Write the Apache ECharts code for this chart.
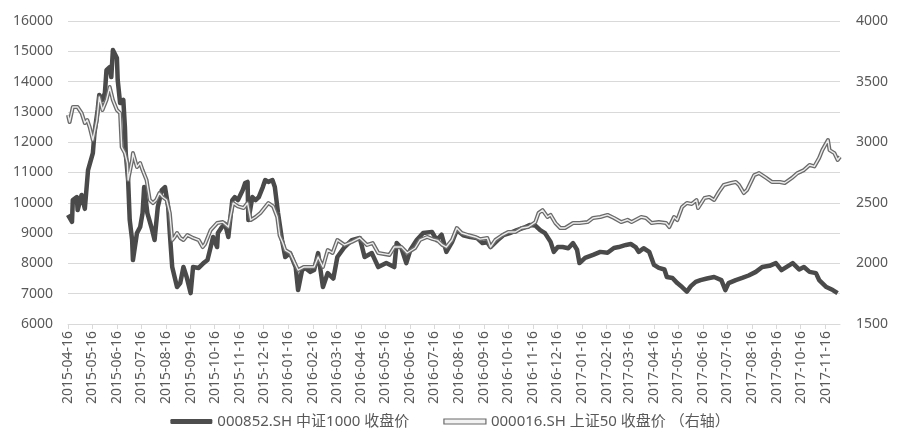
<!DOCTYPE html>
<html><head><meta charset="utf-8">
<script src="https://cdn.jsdelivr.net/npm/echarts@6/dist/echarts.min.js"></script>
<style>html,body{margin:0;padding:0;background:#fff}#c{width:900px;height:440px}</style>
</head><body><div id="c"></div>
<script>
const startDate = '2015-04-16';
const endDate = '2017-12-04';
const tickLabels = ['2015-04-16','2015-05-16','2015-06-16','2015-07-16','2015-08-16','2015-09-16','2015-10-16','2015-11-16','2015-12-16','2016-01-16','2016-02-16','2016-03-16','2016-04-16','2016-05-16','2016-06-16','2016-07-16','2016-08-16','2016-09-16','2016-10-16','2016-11-16','2016-12-16','2017-01-16','2017-02-16','2017-03-16','2017-04-16','2017-05-16','2017-06-16','2017-07-16','2017-08-16','2017-09-16','2017-10-16','2017-11-16'];

const csi1000Name = '000852.SH 中证1000 收盘价';
const csi1000Dates = ['2015-04-16','2015-04-21','2015-04-22','2015-04-27','2015-04-28','2015-05-03','2015-05-07','2015-05-11','2015-05-17','2015-05-19','2015-05-23','2015-05-25','2015-05-29','2015-06-01','2015-06-03','2015-06-07','2015-06-09','2015-06-11','2015-06-16','2015-06-17','2015-06-20','2015-06-24','2015-06-26','2015-06-27','2015-06-30','2015-07-02','2015-07-05','2015-07-06','2015-07-11','2015-07-15','2015-07-18','2015-07-20','2015-07-24','2015-07-29','2015-08-02','2015-08-06','2015-08-11','2015-08-15','2015-08-19','2015-08-21','2015-08-24','2015-08-27','2015-08-30','2015-09-03','2015-09-07','2015-09-11','2015-09-16','2015-09-19','2015-09-26','2015-10-02','2015-10-07','2015-10-11','2015-10-14','2015-10-19','2015-10-20','2015-10-25','2015-10-29','2015-11-02','2015-11-07','2015-11-10','2015-11-14','2015-11-20','2015-11-23','2015-11-26','2015-11-27','2015-12-02','2015-12-06','2015-12-10','2015-12-15','2015-12-18','2015-12-22','2015-12-27','2015-12-30','2016-01-03','2016-01-08','2016-01-12','2016-01-18','2016-01-25','2016-01-28','2016-02-02','2016-02-06','2016-02-12','2016-02-17','2016-02-22','2016-02-28','2016-03-05','2016-03-12','2016-03-17','2016-03-26','2016-04-04','2016-04-14','2016-04-20','2016-04-29','2016-05-07','2016-05-17','2016-05-27','2016-05-30','2016-06-05','2016-06-11','2016-06-16','2016-06-24','2016-07-02','2016-07-13','2016-07-19','2016-07-25','2016-07-31','2016-08-07','2016-08-13','2016-08-21','2016-08-30','2016-09-07','2016-09-14','2016-09-20','2016-09-24','2016-10-03','2016-10-10','2016-10-18','2016-10-27','2016-11-04','2016-11-12','2016-11-19','2016-11-25','2016-12-01','2016-12-08','2016-12-12','2016-12-17','2016-12-23','2016-12-30','2017-01-05','2017-01-10','2017-01-13','2017-01-20','2017-01-30','2017-02-08','2017-02-17','2017-02-25','2017-03-03','2017-03-12','2017-03-18','2017-03-24','2017-03-28','2017-04-03','2017-04-10','2017-04-16','2017-04-22','2017-04-29','2017-05-02','2017-05-09','2017-05-15','2017-05-21','2017-05-27','2017-06-01','2017-06-07','2017-06-13','2017-06-21','2017-06-30','2017-07-09','2017-07-14','2017-07-18','2017-07-27','2017-08-04','2017-08-12','2017-08-21','2017-08-29','2017-09-07','2017-09-15','2017-09-22','2017-09-28','2017-10-06','2017-10-14','2017-10-20','2017-10-27','2017-11-04','2017-11-08','2017-11-17','2017-11-25','2017-12-01'];
const csi1000Values = [9600,9370,10090,10190,9760,10260,9800,11080,11640,12300,13060,13560,13400,13620,14380,14480,14150,15040,14780,14050,13290,13400,12500,11640,10750,9430,8770,8110,9000,9200,9660,10520,9660,9200,8770,9860,10420,10520,9860,9000,7880,7550,7220,7350,7880,7550,7020,7880,7850,8010,8110,8540,8870,8540,9000,9200,9300,8870,10090,10190,10090,10420,10650,10690,9430,10190,10090,10190,10520,10750,10690,10750,10520,9660,8770,8210,8340,7880,7120,7780,7850,7720,7780,8340,7220,7680,7500,8210,8540,8770,8840,8210,8340,7880,8010,7880,8670,8500,8010,8440,8770,9000,9040,8770,8950,8380,8700,9100,8930,8870,8840,8670,8700,8540,8770,8930,9000,9100,9170,9270,9250,9100,9000,8710,8380,8540,8540,8500,8670,8450,8010,8180,8280,8380,8350,8510,8540,8610,8640,8540,8380,8500,8380,7950,7850,7800,7550,7520,7350,7220,7070,7250,7390,7450,7500,7550,7450,7120,7350,7450,7520,7600,7720,7880,7920,8010,7780,7880,8010,7800,7880,7720,7680,7450,7220,7120,7020];

const sse50Name = '000016.SH 上证50 收盘价 （右轴）';
const sse50Dates = ['2015-04-16','2015-04-18','2015-04-22','2015-04-28','2015-05-03','2015-05-07','2015-05-10','2015-05-13','2015-05-17','2015-05-22','2015-05-25','2015-05-29','2015-06-03','2015-06-07','2015-06-11','2015-06-16','2015-06-20','2015-06-22','2015-06-26','2015-06-29','2015-06-30','2015-07-05','2015-07-06','2015-07-11','2015-07-15','2015-07-18','2015-07-23','2015-07-27','2015-07-31','2015-08-04','2015-08-08','2015-08-12','2015-08-17','2015-08-21','2015-08-24','2015-08-27','2015-08-30','2015-09-03','2015-09-07','2015-09-12','2015-09-19','2015-09-26','2015-10-01','2015-10-04','2015-10-11','2015-10-19','2015-10-26','2015-11-02','2015-11-08','2015-11-14','2015-11-21','2015-11-26','2015-11-30','2015-12-06','2015-12-12','2015-12-18','2015-12-22','2015-12-28','2016-01-02','2016-01-05','2016-01-09','2016-01-12','2016-01-18','2016-01-25','2016-01-28','2016-02-04','2016-02-17','2016-02-22','2016-02-28','2016-03-05','2016-03-11','2016-03-17','2016-03-26','2016-04-04','2016-04-14','2016-04-23','2016-04-30','2016-05-07','2016-05-21','2016-05-27','2016-06-05','2016-06-12','2016-06-22','2016-06-28','2016-07-07','2016-07-14','2016-07-20','2016-07-26','2016-07-31','2016-08-07','2016-08-13','2016-08-19','2016-08-27','2016-09-05','2016-09-11','2016-09-20','2016-09-24','2016-09-30','2016-10-09','2016-10-16','2016-10-25','2016-11-02','2016-11-10','2016-11-19','2016-11-23','2016-11-28','2016-12-04','2016-12-08','2016-12-14','2016-12-20','2016-12-26','2017-01-05','2017-01-13','2017-01-23','2017-01-30','2017-02-08','2017-02-17','2017-02-25','2017-03-06','2017-03-14','2017-03-19','2017-03-31','2017-04-06','2017-04-13','2017-04-22','2017-05-01','2017-05-05','2017-05-11','2017-05-15','2017-05-21','2017-05-27','2017-06-02','2017-06-08','2017-06-10','2017-06-18','2017-06-24','2017-06-30','2017-07-06','2017-07-12','2017-07-21','2017-07-27','2017-07-31','2017-08-06','2017-08-10','2017-08-19','2017-08-25','2017-09-03','2017-09-10','2017-09-20','2017-09-26','2017-10-05','2017-10-12','2017-10-20','2017-10-27','2017-11-02','2017-11-08','2017-11-12','2017-11-19','2017-11-21','2017-11-27','2017-12-01','2017-12-04'];
const sse50Values = [3224,3167,3290,3290,3240,3158,3183,3125,3018,3183,3373,3266,3348,3455,3348,3266,3240,2960,2910,2828,2688,2853,2910,2795,2828,2770,2688,2523,2498,2523,2580,2548,2523,2416,2193,2218,2251,2210,2193,2234,2210,2193,2135,2160,2275,2333,2341,2300,2498,2470,2457,2498,2358,2383,2416,2465,2498,2470,2383,2230,2168,2110,2086,1987,1945,1970,1970,2053,1970,2110,2086,2193,2152,2177,2210,2152,2168,2086,2070,2135,2135,2086,2127,2193,2218,2200,2190,2152,2135,2193,2292,2251,2234,2218,2200,2210,2135,2193,2234,2259,2259,2292,2300,2341,2416,2440,2383,2400,2333,2292,2292,2333,2333,2341,2375,2383,2400,2375,2341,2360,2341,2383,2375,2333,2341,2333,2300,2383,2358,2465,2498,2490,2523,2457,2540,2548,2523,2590,2647,2663,2672,2647,2580,2605,2729,2745,2705,2672,2672,2663,2705,2745,2770,2812,2800,2870,2935,3018,2935,2910,2853,2880];

const leftMin = 6000, leftMax = 16000, leftStep = 1000;
const rightMin = 1500, rightMax = 4000, rightStep = 500;

function fmt(d){ return d.toISOString().slice(0,10); }
const categories = [];
for (let t = Date.parse(startDate + 'T00:00:00Z'); t <= Date.parse(endDate + 'T00:00:00Z'); t += 86400000) {
  categories.push(fmt(new Date(t)));
}
const tickSet = new Set(tickLabels);
const pair = (ds, vs) => ds.map((d, i) => [d, vs[i]]);

const FONT = '"Noto Sans", "Noto Sans CJK SC", sans-serif';
const TXT = '#595959';
const chart = echarts.init(document.getElementById('c'), null, {renderer: 'canvas'});
chart.setOption({
  animation: false,
  backgroundColor: '#ffffff',
  grid: {left: 68, right: 60, top: 21, bottom: 116, containLabel: false},
  legend: {
    top: 409, left: 'center', itemGap: 34, itemWidth: 42, itemHeight: 5,
    textStyle: {color: TXT, fontSize: 15, fontFamily: FONT},
    data: [
      {name: csi1000Name, icon: 'roundRect', itemStyle: {color: '#4d4d4d'}},
      {name: sse50Name, icon: 'rect', itemStyle: {color: '#f2f2f2', borderColor: '#6a6a6a', borderWidth: 1.2}}
    ]
  },
  xAxis: {
    type: 'category', data: categories, boundaryGap: false,
    axisLine: {lineStyle: {color: '#d9d9d9'}},
    axisTick: {show: true, interval: (i, v) => tickSet.has(v), length: 5, lineStyle: {color: '#d9d9d9'}},
    axisLabel: {interval: (i, v) => tickSet.has(v), rotate: 90, color: TXT, fontSize: 14, fontFamily: FONT, margin: 7, hideOverlap: false},
    splitLine: {show: false}
  },
  yAxis: [
    {type: 'value', min: leftMin, max: leftMax, interval: leftStep,
     axisLine: {show: false}, axisTick: {show: false},
     axisLabel: {color: TXT, fontSize: 14, fontFamily: FONT, margin: 15, formatter: v => String(v)},
     splitLine: {lineStyle: {color: '#d9d9d9', width: 1}}},
    {type: 'value', min: rightMin, max: rightMax, interval: rightStep, position: 'right',
     axisLine: {show: false}, axisTick: {show: false},
     axisLabel: {color: TXT, fontSize: 14, fontFamily: FONT, margin: 16, formatter: v => String(v)},
     splitLine: {show: false}}
  ],
  series: [
    {name: csi1000Name, type: 'line', yAxisIndex: 0, data: pair(csi1000Dates, csi1000Values),
     showSymbol: false, symbol: 'none', lineStyle: {color: '#4a4a4a', width: 4.5, join: 'round'}, itemStyle: {color: '#4a4a4a'}, z: 2},
    {name: sse50Name, type: 'line', yAxisIndex: 1, data: pair(sse50Dates, sse50Values),
     showSymbol: false, symbol: 'none', lineStyle: {color: '#6a6a6a', width: 4, join: 'round'}, itemStyle: {color: '#6a6a6a'}, z: 3},
    {name: sse50Name, type: 'line', yAxisIndex: 1, data: pair(sse50Dates, sse50Values),
     showSymbol: false, symbol: 'none', lineStyle: {color: '#ececec', width: 1.4, join: 'round'}, itemStyle: {color: '#ececec'}, z: 4}
  ]
});
</script></body></html>
